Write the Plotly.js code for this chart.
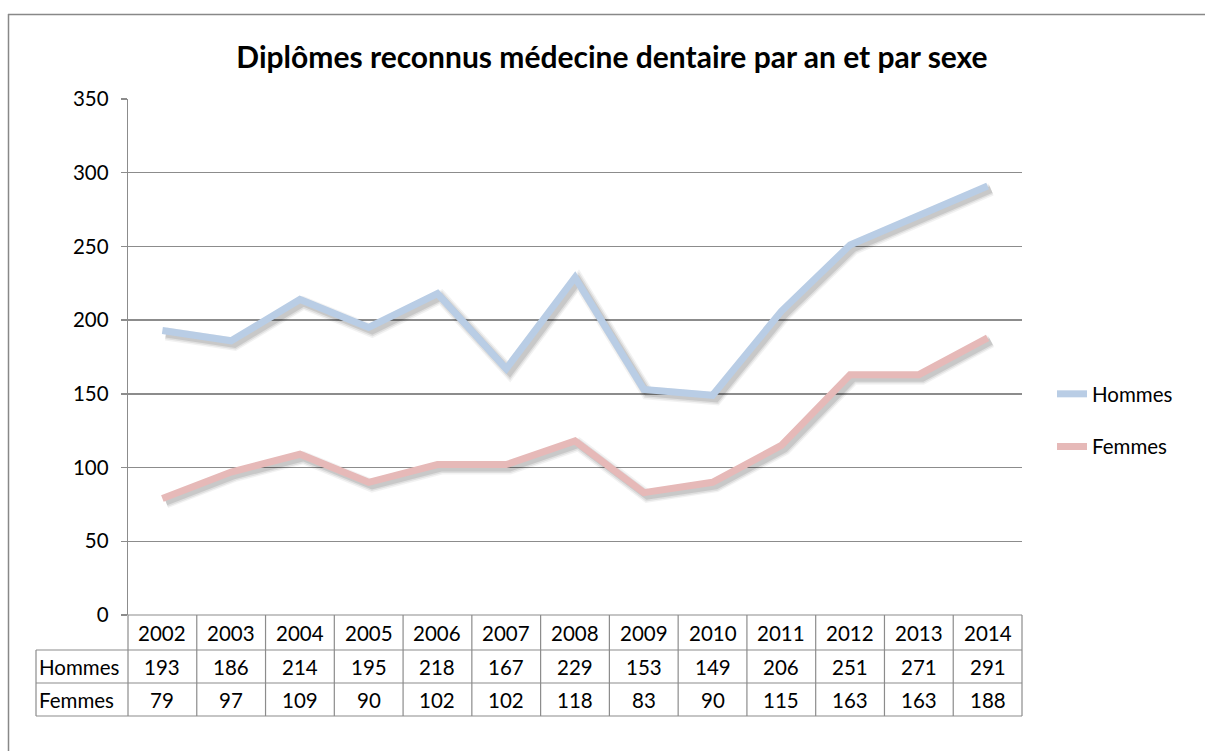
<!DOCTYPE html>
<html><head><meta charset="utf-8">
<script src="https://cdn.plot.ly/plotly-3.0.1.min.js"></script>
<style>html,body{margin:0;padding:0;background:#fff}#chart{width:1205px;height:751px}</style>
</head><body><div id="chart"></div>
<script>
const years = ['2002','2003','2004','2005','2006','2007','2008','2009','2010','2011','2012','2013','2014'];
const hommes = [193,186,214,195,218,167,229,153,149,206,251,271,291];
const femmes = [79,97,109,90,102,102,118,83,90,115,163,163,188];
const seriesNames = ['Hommes','Femmes'];
const yTicks = [0,50,100,150,200,250,300,350];

const FONT = 'Lato, "Open Sans", sans-serif';
const FS = 20.5;
const W = 1205, H = 751;
const L = 128, R = 1022, T = 99, B = 615;
const pw = R - L, ph = B - T;
const px = v => (v - L) / pw;
const py = v => (B - v) / ph;
const grid = '#8c8c8c';
const n = years.length;
const idx = years.map((_, i) => i);

// shadow offsets (in axis units)
const dxU = 3.5 / (pw / n);
const dyU = 3.5 / (ph / 350);

const traces = [];
[[hommes, 'rgba(0,0,0,0.05)', 13], [femmes, 'rgba(0,0,0,0.05)', 13], [hommes, 'rgba(0,0,0,0.08)', 10], [femmes, 'rgba(0,0,0,0.08)', 10], [hommes, 'rgba(0,0,0,0.10)', 7], [femmes, 'rgba(0,0,0,0.10)', 7]].forEach(([d, c, w]) => {
  traces.push({x: idx, y: d, xaxis: 'x', yaxis: 'y', mode: 'lines', showlegend: false, hoverinfo: 'skip',
    line: {color: c, width: w, shape: 'linear'}});
});
traces.push({x: idx, y: hommes, xaxis: 'x2', yaxis: 'y2', name: seriesNames[0], mode: 'lines', legendgroup: 'a',
  line: {color: '#b9cde5', width: 7}});
traces.push({x: idx, y: femmes, xaxis: 'x2', yaxis: 'y2', name: seriesNames[1], mode: 'lines', legendgroup: 'b',
  line: {color: '#e6b9b8', width: 7}});

const shapes = [];
const annotations = [];
const lineS = {color: grid, width: 1.2};
// outer frame
shapes.push({type: 'line', xref: 'paper', yref: 'paper', x0: px(8), x1: px(W), y0: py(14.5), y1: py(14.5), line: {color: '#888', width: 1.5}});
shapes.push({type: 'line', xref: 'paper', yref: 'paper', x0: px(8.5), x1: px(8.5), y0: py(14), y1: py(H), line: {color: '#888', width: 1.5}});
// table
shapes.push({type: 'line', xref: 'paper', yref: 'paper', x0: 0, x1: 1, y0: py(615), y1: py(615), line: lineS});
[650, 683, 716].forEach(yv => shapes.push({type: 'line', xref: 'paper', yref: 'paper', x0: px(36), x1: 1, y0: py(yv), y1: py(yv), line: lineS}));
shapes.push({type: 'line', xref: 'paper', yref: 'paper', x0: px(36), x1: px(36), y0: py(650), y1: py(716), line: lineS});
for (let i = 0; i <= n; i++) {
  shapes.push({type: 'line', xref: 'paper', yref: 'paper', x0: i / n, x1: i / n, y0: py(615), y1: py(716), line: lineS});
}
const tf = {family: FONT, size: FS, color: '#000'};
years.forEach((yr, i) => {
  annotations.push({xref: 'paper', yref: 'paper', x: (i + 0.5) / n, y: py(632.5), text: yr, showarrow: false, font: tf, xanchor: 'center', yanchor: 'middle'});
  annotations.push({xref: 'paper', yref: 'paper', x: (i + 0.5) / n, y: py(666.5), text: String(hommes[i]), showarrow: false, font: tf, xanchor: 'center', yanchor: 'middle'});
  annotations.push({xref: 'paper', yref: 'paper', x: (i + 0.5) / n, y: py(699.5), text: String(femmes[i]), showarrow: false, font: tf, xanchor: 'center', yanchor: 'middle'});
});
annotations.push({xref: 'paper', yref: 'paper', x: px(37), y: py(666.5), text: seriesNames[0], showarrow: false, font: tf, xanchor: 'left', yanchor: 'middle'});
annotations.push({xref: 'paper', yref: 'paper', x: px(37), y: py(699.5), text: seriesNames[1], showarrow: false, font: tf, xanchor: 'left', yanchor: 'middle'});

const layout = {
  width: W, height: H,
  margin: {l: L, r: W - R, t: T, b: H - B, pad: 0},
  paper_bgcolor: '#fff', plot_bgcolor: 'rgba(0,0,0,0)',
  font: {family: FONT, size: FS, color: '#000'},
  title: {text: '<b>Diplômes reconnus médecine dentaire par an et par sexe</b>', x: 612 / W, xref: 'container', xanchor: 'center',
    y: 1 - 57 / H, yref: 'container', yanchor: 'middle', font: {family: FONT, size: 30, color: '#000'}},
  xaxis: {range: [-0.5 - dxU, n - 0.5 - dxU], visible: false, fixedrange: true},
  yaxis: {range: [dyU, 350 + dyU], visible: false, fixedrange: true},
  xaxis2: {overlaying: 'x', range: [-0.5, n - 0.5], showgrid: false, zeroline: false, showticklabels: false, ticks: '', showline: false, fixedrange: true},
  yaxis2: {overlaying: 'y', range: [0, 350], tickvals: yTicks, ticktext: yTicks.map(String), showgrid: true, gridcolor: grid, gridwidth: 1.3,
    zeroline: false, showline: true, linecolor: grid, linewidth: 1.3, ticks: 'outside', ticklen: 6, tickcolor: grid, tickwidth: 1.3,
    ticklabelstandoff: 8, tickfont: {family: FONT, size: FS, color: '#000'}, fixedrange: true},
  showlegend: true,
  legend: {x: px(1052), xanchor: 'left', y: py(374), yanchor: 'top', traceorder: 'grouped', tracegroupgap: 23,
    font: {family: FONT, size: FS, color: '#000'}, bgcolor: 'rgba(0,0,0,0)', itemwidth: 30},
  shapes, annotations
};
Plotly.newPlot('chart', traces, layout, {displayModeBar: false, staticPlot: true});
</script></body></html>
